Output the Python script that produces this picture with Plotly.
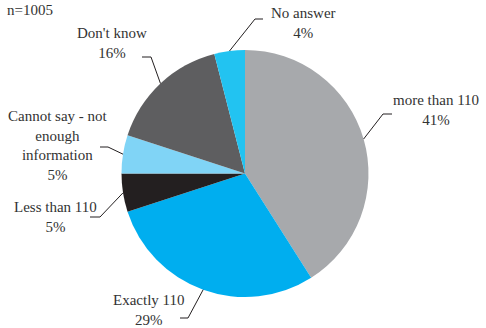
import math
import plotly.graph_objects as go

# Survey responses (n=1005), percentage of respondents
categories = ["more than 110", "Exactly 110", "Less than 110",
              "Cannot say - not enough information", "Don't know", "No answer"]
shares = [41, 29, 5, 5, 16, 4]
label_lines = [
    ["more than 110"],
    ["Exactly 110"],
    ["Less than 110"],
    ["Cannot say - not", "enough", "information"],
    ["Don't know"],
    ["No answer"],
]
sample_note = "n=1005"

colors = ["#a7a9ac", "#00aeef", "#231f20", "#80d4f6", "#5e5e60", "#22c3f1"]

W, H = 486, 328
CX, CY, R = 245, 173.5, 123.5  # pie centre and radius in pixels

# Label layout: text centre x, vertical centre of the text block, elbow point, tick end
label_layout = [
    dict(tx=436, ty=110, elbow=(383, 114), tick=(392, 114)),
    dict(tx=149, ty=310, elbow=(188, 318), tick=(180, 318)),
    dict(tx=55, ty=217, elbow=(100, 217), tick=(90, 217)),
    dict(tx=58, ty=145, elbow=(108, 147), tick=(100, 147)),
    dict(tx=112, ty=43, elbow=(151, 57), tick=(142, 57)),
    dict(tx=303, ty=23, elbow=(255, 19), tick=(263, 19)),
]
TEXT_COLOR = "#333333"
FONT = "Liberation Serif, Times New Roman, serif"
FONT_SIZE = 15


def px(x):
    return x / W


def py(y):
    return 1 - y / H


fig = go.Figure(go.Pie(
    labels=categories,
    values=shares,
    sort=False,
    direction="clockwise",
    rotation=0,
    marker=dict(colors=colors, line=dict(width=0)),
    textinfo="none",
    hoverinfo="label+percent",
    showlegend=False,
    domain=dict(x=[px(CX - R), px(CX + R)], y=[py(CY + R), py(CY - R)]),
))

annotations = []
shapes = []
total = sum(shares)
cum = 0
for name, val, lines, lay in zip(categories, shares, label_lines, label_layout):
    mid = (cum + val / 2) / total * 2 * math.pi
    cum += val
    ex = CX + R * math.sin(mid)
    ey = CY - R * math.cos(mid)
    text = "<br>".join(lines + [f"{val}%"])
    annotations.append(dict(
        x=px(lay["tx"]), y=py(lay["ty"]),
        xref="paper", yref="paper", text=text, showarrow=False,
        xanchor="center", yanchor="middle", align="center",
        borderpad=0,
        font=dict(family=FONT, size=FONT_SIZE, color=TEXT_COLOR),
    ))
    bx, by = lay["elbow"]
    kx, ky = lay["tick"]
    shapes.append(dict(
        type="path", xref="paper", yref="paper",
        path=f"M {px(ex)} {py(ey)} L {px(bx)} {py(by)} L {px(kx)} {py(ky)}",
        line=dict(color="#231f20", width=1),
    ))

annotations.append(dict(
    x=px(6), y=py(10), xref="paper", yref="paper", text=sample_note,
    showarrow=False, xanchor="left", yanchor="middle", borderpad=0,
    font=dict(family=FONT, size=FONT_SIZE, color=TEXT_COLOR),
))

fig.update_layout(
    width=W, height=H,
    margin=dict(l=0, r=0, t=0, b=0),
    paper_bgcolor="white",
    plot_bgcolor="white",
    annotations=annotations,
    shapes=shapes,
)

fig.write_html("out.html")
